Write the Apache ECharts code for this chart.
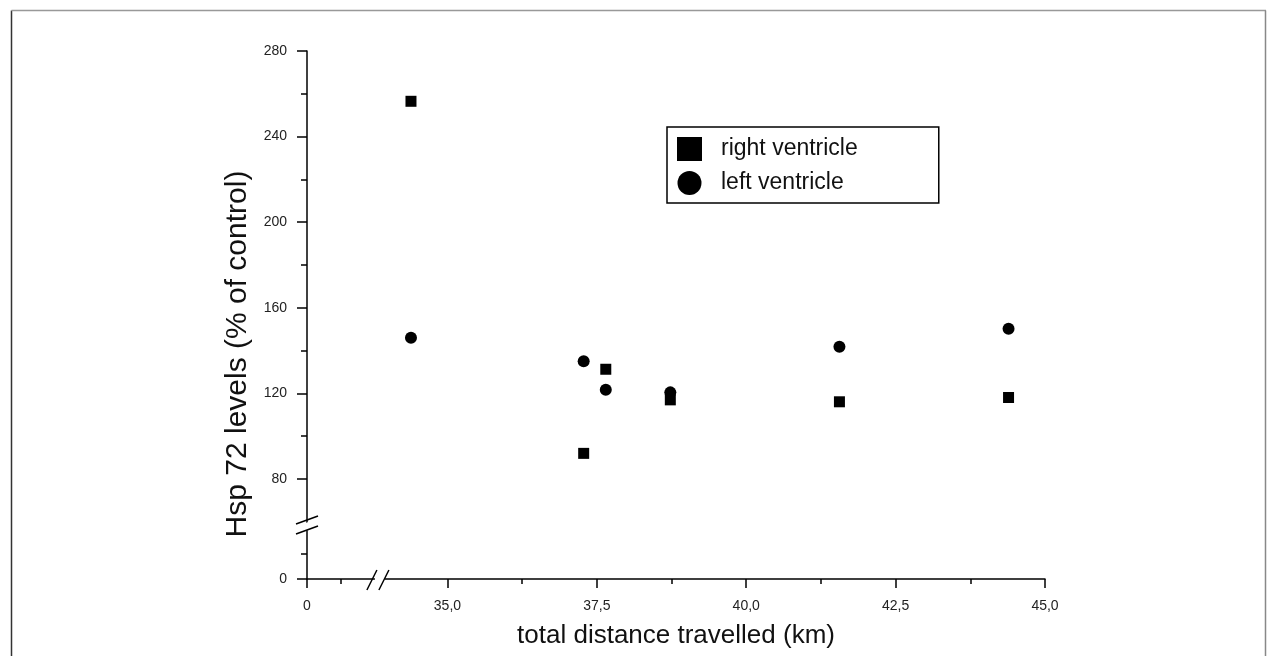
<!DOCTYPE html>
<html>
<head>
<meta charset="utf-8">
<script src="https://cdn.jsdelivr.net/npm/echarts@6/dist/echarts.min.js"></script>
<style>
html,body{margin:0;padding:0;background:#fff;}
#c{width:1267px;height:656px;}
</style>
</head>
<body>
<div id="c"></div>
<script>
// ---- data ----
var seriesNames = ['right ventricle', 'left ventricle'];
var rightX = [34.39, 37.28, 37.65, 38.73, 41.56, 44.39];
var rightY = [256.5, 92, 131.3, 117, 116.1, 118.1];
var leftX  = [34.39, 37.28, 37.65, 38.73, 41.56, 44.39];
var leftY  = [146, 135, 121.7, 120.5, 141.8, 150.2];
// broken axes: the lowest shown value stands for "0"
var xBrokenMin = 32.65;
var yBrokenMin = 33.3;
var xTickValues = [xBrokenMin, 35, 37.5, 40, 42.5, 45];
var xMinorTicks = [33.22, 36.25, 38.75, 41.25, 43.75];
var yTickValues = [yBrokenMin, 80, 120, 160, 200, 240, 280];
var yMinorTicks = [45, 100, 140, 180, 220, 260];
var xBreakAt = 33.87;
var yBreakAt = 58.5;

function pairs(xs, ys){ return xs.map(function(x,i){ return [x, ys[i]]; }); }

var chart = echarts.init(document.getElementById('c'), null, {renderer:'canvas'});
var labelStyle = {color:'#222', fontSize:14, fontFamily:'Liberation Sans, Arial, sans-serif'};
var lineStyle = {color:'#000', width:1.5};

var option = {
  animation:false,
  backgroundColor:'#fff',
  grid:{left:307, right:222, top:51, bottom:77, containLabel:false, outerBoundsMode:'none'},
  legend:{
    orient:'vertical', left:667, top:127,
    data:[{name:seriesNames[0], icon:'rect'},{name:seriesNames[1], icon:'circle'}],
    itemWidth:25, itemHeight:24, itemGap:10,
    padding:[10, 81, 8, 10],
    borderColor:'#000', borderWidth:1.5, borderRadius:0,
    itemStyle:{color:'#000', opacity:1},
    textStyle:{color:'#111', fontSize:23, fontFamily:'Liberation Sans, Arial, sans-serif', padding:[0,0,0,14]},
    selectedMode:false
  },
  xAxis:[{
    type:'value', min:xBrokenMin, max:45,
    name:'total distance travelled (km)', nameLocation:'middle', nameGap:44,
    nameTextStyle:{color:'#111', fontSize:26, fontFamily:'Liberation Sans, Arial, sans-serif'},
    axisLine:{show:true, onZero:false, lineStyle:lineStyle},
    axisTick:{show:true, length:9, lineStyle:lineStyle, customValues:xTickValues},
    axisLabel:Object.assign({margin:20, customValues:xTickValues, formatter:function(v){
      if (Math.abs(v - xBrokenMin) < 1e-6) return '0';
      return v.toFixed(1).replace('.', ',');
    }}, labelStyle),
    splitLine:{show:false}
  },{
    type:'value', min:xBrokenMin, max:45, position:'bottom', offset:0,
    axisLine:{show:false},
    axisTick:{show:true, length:5, lineStyle:lineStyle, customValues:xMinorTicks},
    axisLabel:{show:false},
    splitLine:{show:false}
  }],
  yAxis:[{
    type:'value', min:yBrokenMin, max:280,
    name:'Hsp 72 levels (% of control)', nameLocation:'middle', nameGap:50, nameRotate:90,
    nameTextStyle:{color:'#111', fontSize:30, fontFamily:'Liberation Sans, Arial, sans-serif', padding:[0,78,0,0]},
    axisLine:{show:true, onZero:false, lineStyle:lineStyle},
    axisTick:{show:true, length:10, lineStyle:lineStyle, customValues:yTickValues},
    axisLabel:Object.assign({margin:20, customValues:yTickValues, formatter:function(v){
      if (Math.abs(v - yBrokenMin) < 1e-6) return '0';
      return String(Math.round(v));
    }}, labelStyle),
    splitLine:{show:false}
  },{
    type:'value', min:yBrokenMin, max:280, position:'left', offset:0,
    axisLine:{show:false},
    axisTick:{show:true, length:6, lineStyle:lineStyle, customValues:yMinorTicks},
    axisLabel:{show:false},
    splitLine:{show:false}
  }],
  series:[{
    name:seriesNames[0], type:'scatter', symbol:'rect', symbolSize:11,
    itemStyle:{color:'#000', opacity:1}, data:pairs(rightX, rightY), z:3
  },{
    name:seriesNames[1], type:'scatter', symbol:'circle', symbolSize:12,
    itemStyle:{color:'#000', opacity:1}, data:pairs(leftX, leftY), z:4
  }]
};
chart.setOption(option);

// break marks and page frame
var pY = chart.convertToPixel({gridIndex:0}, [xBrokenMin, yBreakAt]);
var pX = chart.convertToPixel({gridIndex:0}, [xBreakAt, yBrokenMin]);
var stroke = {stroke:'#000', lineWidth:1.5};
chart.setOption({
  graphic:[
    // frame
    {type:'line', shape:{x1:11.5, y1:10.5, x2:11.5, y2:656}, style:{stroke:'#333', lineWidth:1.5}, silent:true},
    {type:'line', shape:{x1:11.5, y1:10.5, x2:1266, y2:10.5}, style:{stroke:'#999', lineWidth:1.5}, silent:true},
    {type:'line', shape:{x1:1265.5, y1:10.5, x2:1265.5, y2:656}, style:{stroke:'#888', lineWidth:1.5}, silent:true},
    // y-axis break
    {type:'polygon', shape:{points:[[pY[0]-4,pY[1]-1],[pY[0]+4,pY[1]-4],[pY[0]+4,pY[1]+4],[pY[0]-4,pY[1]+7]]}, style:{fill:'#fff'}, z:100, silent:true},
    {type:'line', shape:{x1:pY[0]-11, y1:pY[1]-1, x2:pY[0]+11, y2:pY[1]-9}, style:stroke, z:101, silent:true},
    {type:'line', shape:{x1:pY[0]-11, y1:pY[1]+9, x2:pY[0]+11, y2:pY[1]+1}, style:stroke, z:101, silent:true},
    // x-axis break
    {type:'rect', shape:{x:pX[0]-5, y:pX[1]-2, width:10, height:4}, style:{fill:'#fff'}, z:100, silent:true},
    {type:'line', shape:{x1:pX[0]-13, y1:pX[1]+11, x2:pX[0]-3, y2:pX[1]-9}, style:stroke, z:101, silent:true},
    {type:'line', shape:{x1:pX[0]-1, y1:pX[1]+11, x2:pX[0]+9, y2:pX[1]-9}, style:stroke, z:101, silent:true}
  ]
});
</script>
</body>
</html>
